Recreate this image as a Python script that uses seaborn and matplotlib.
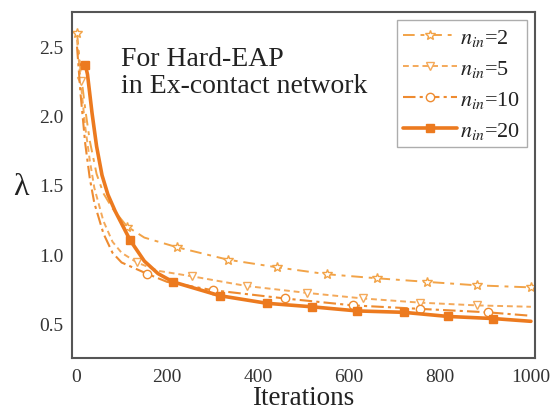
import matplotlib
matplotlib.use("Agg")
import matplotlib.pyplot as plt
import seaborn as sns
import pandas as pd

# n_in = 2
x_n2 = [2, 10, 20, 30, 45, 60, 80, 112, 150, 222, 334, 442, 552, 661, 771, 881, 1000]
y_n2 = [2.60, 2.32, 2.05, 1.82, 1.58, 1.44, 1.33, 1.20, 1.12, 1.05, 0.96, 0.905, 0.855, 0.826, 0.80, 0.775, 0.76]
# n_in = 5
x_n5 = [2, 10, 20, 30, 40, 60, 80, 100, 134, 180, 255, 375, 508, 631, 756, 881, 1000]
y_n5 = [2.55, 2.25, 1.92, 1.68, 1.48, 1.24, 1.09, 1.01, 0.94, 0.88, 0.84, 0.77, 0.72, 0.68, 0.65, 0.63, 0.62]
# n_in = 10
x_n10 = [2, 10, 20, 30, 40, 60, 80, 100, 155, 200, 300, 459, 609, 756, 905, 1000]
y_n10 = [2.50, 2.15, 1.80, 1.55, 1.37, 1.15, 1.01, 0.94, 0.86, 0.80, 0.74, 0.68, 0.63, 0.605, 0.58, 0.555]
# n_in = 20
x_n20 = [12, 20, 25, 35, 45, 57, 70, 86, 119, 150, 180, 213, 316, 420, 518, 618, 720, 818, 917, 1000]
y_n20 = [2.37, 2.37, 2.30, 2.02, 1.78, 1.57, 1.43, 1.31, 1.10, 0.95, 0.86, 0.80, 0.70, 0.645, 0.62, 0.59, 0.58, 0.55, 0.535, 0.515]

labels = [r"$n_{in}$=2", r"$n_{in}$=5", r"$n_{in}$=10", r"$n_{in}$=20"]

sns.set_style("white")
plt.rcParams["font.family"] = ["Liberation Serif", "DejaVu Serif"]
plt.rcParams["mathtext.fontset"] = "stix"

fig = plt.figure(figsize=(5.51, 4.14), dpi=100)
ax = fig.add_axes([0.1307, 0.1329, 0.8403, 0.8357])

specs = [
    (x_n2, y_n2, labels[0], "#F2A347", (0, (6, 3, 2, 3)), "*", 7, 1.4, "white",
     [0, 7, 9, 10, 11, 12, 13, 14, 15, 16]),
    (x_n5, y_n5, labels[1], "#F4A95A", (0, (3, 2)), "v", 6, 1.4, "white",
     [1, 8, 10, 11, 12, 13, 14, 15]),
    (x_n10, y_n10, labels[2], "#EE8B30", (0, (6, 2, 1.5, 2)), "o", 6, 1.5, "white",
     [8, 10, 11, 12, 13, 14]),
    (x_n20, y_n20, labels[3], "#EC7A1F", "-", "s", 5.5, 2.6, "#EC7A1F",
     [1, 8, 11, 12, 13, 14, 15, 16, 17, 18]),
]

for xs, ys, lab, col, ls, mk, ms, lw, mfc, mev in specs:
    df = pd.DataFrame({"Iterations": xs, "lam": ys})
    sns.lineplot(data=df, x="Iterations", y="lam", ax=ax, color=col, linestyle=ls,
                 linewidth=lw, marker=mk, markersize=ms, markerfacecolor=mfc,
                 markeredgecolor=col, markeredgewidth=1.0, markevery=mev, label=lab)

ax.set_xlim(-9, 1009)
ax.set_ylim(0.25, 2.75)
ax.set_xticks([0, 200, 400, 600, 800, 1000])
ax.set_xticks([100, 300, 500, 700, 900], minor=True)
ax.set_yticks([0.5, 1.0, 1.5, 2.0, 2.5])
ax.set_yticks([0.75, 1.25, 1.75, 2.25], minor=True)
ax.tick_params(axis="both", which="major", direction="in", length=5, width=1.2,
               labelsize=14, colors="#333333", labelcolor="#333333")
ax.tick_params(axis="both", which="minor", direction="in", length=3, width=1.0, colors="#333333")
ax.tick_params(axis="x", pad=7)
ax.tick_params(axis="y", pad=6)
for sp in ax.spines.values():
    sp.set_color("#555555")
    sp.set_linewidth(1.5)

ax.set_xlabel("Iterations", fontsize=19.5, color="#222222", labelpad=0)
ax.set_ylabel("λ", fontsize=23, color="#222222", rotation=0, labelpad=14)
ax.yaxis.set_label_coords(-0.11, 0.455)

ax.text(0.106, 0.902, "For Hard-EAP\nin Ex-contact network", transform=ax.transAxes,
        fontsize=20, color="#222222", va="top", ha="left", linespacing=1.1)

leg = ax.legend(loc="upper right", bbox_to_anchor=(0.992, 0.99), fontsize=16,
                handlelength=2.4, handletextpad=0.15, labelspacing=0.45,
                borderpad=0.3, frameon=True, fancybox=False, borderaxespad=0.2)
leg.get_frame().set_edgecolor("#999999")
leg.get_frame().set_linewidth(1.0)
for t in leg.get_texts():
    t.set_color("#222222")

fig.savefig("out.png", dpi=100)
